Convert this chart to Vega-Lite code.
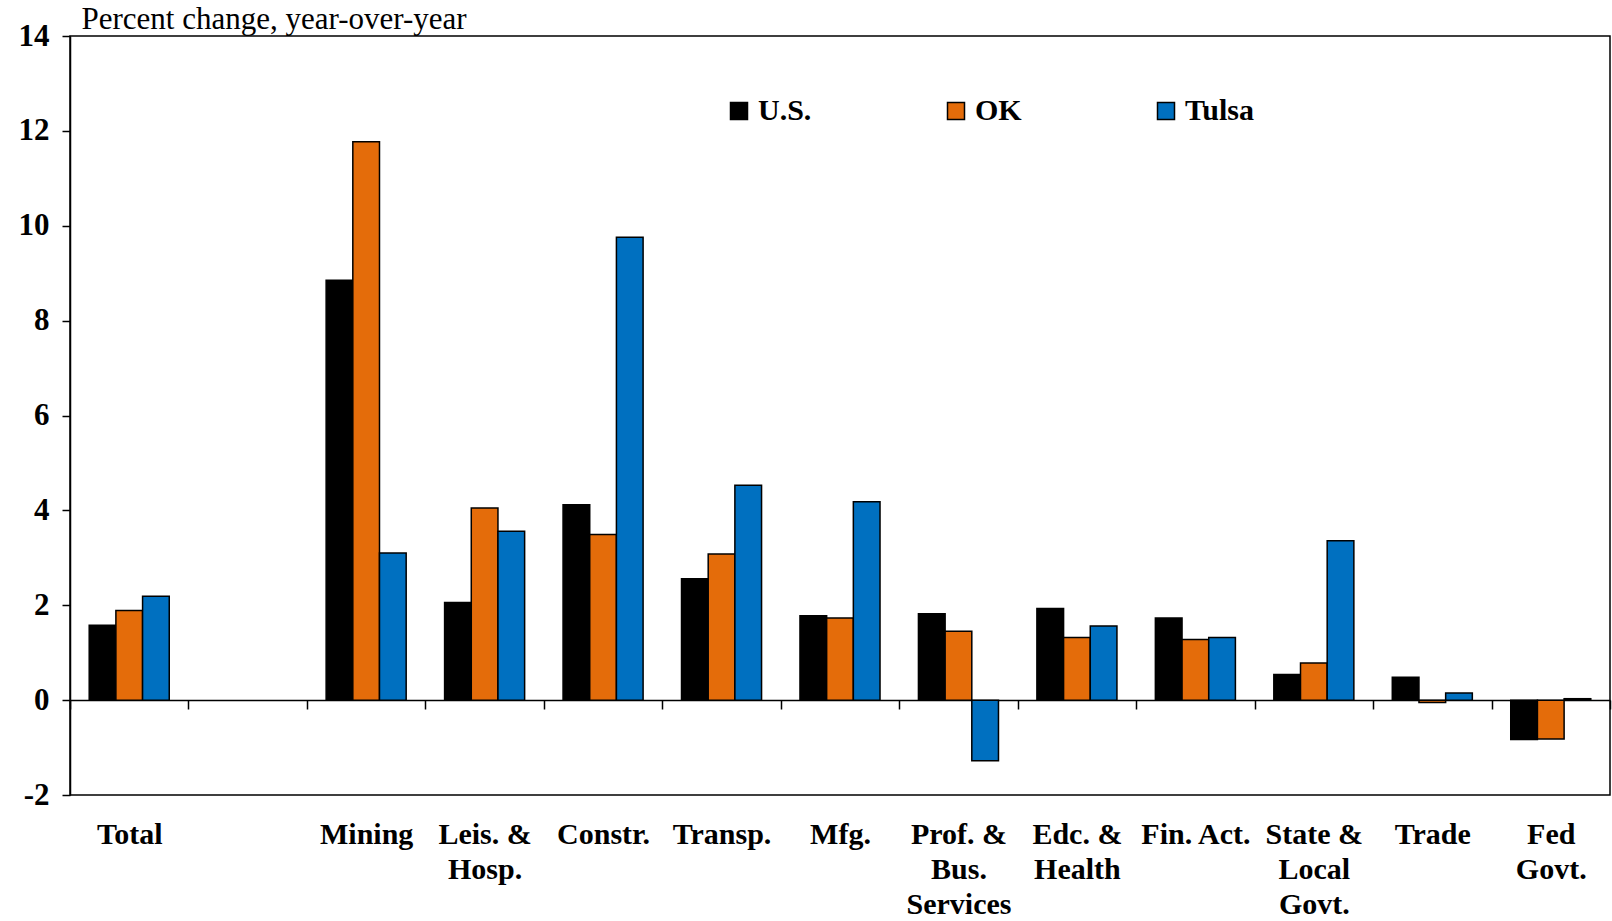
{
  "$schema": "https://vega.github.io/schema/vega-lite/v6.json",
  "width": 1540,
  "height": 759,
  "autosize": {"type": "none"},
  "padding": {"left": 70, "top": 36, "right": 2, "bottom": 126},
  "background": "white",
  "config": {"view": {"stroke": "#000", "strokeWidth": 1.5}, "font": "Liberation Serif"},
  "data": {"values": [
    {"cat": "Total", "series": "U.S.", "value": 1.58},
    {"cat": "Total", "series": "OK", "value": 1.89},
    {"cat": "Total", "series": "Tulsa", "value": 2.19},
    {"cat": "Mining", "series": "U.S.", "value": 8.85},
    {"cat": "Mining", "series": "OK", "value": 11.77},
    {"cat": "Mining", "series": "Tulsa", "value": 3.10},
    {"cat": "Leis. &|Hosp.", "series": "U.S.", "value": 2.06},
    {"cat": "Leis. &|Hosp.", "series": "OK", "value": 4.05},
    {"cat": "Leis. &|Hosp.", "series": "Tulsa", "value": 3.56},
    {"cat": "Constr.", "series": "U.S.", "value": 4.12},
    {"cat": "Constr.", "series": "OK", "value": 3.49},
    {"cat": "Constr.", "series": "Tulsa", "value": 9.76},
    {"cat": "Transp.", "series": "U.S.", "value": 2.56},
    {"cat": "Transp.", "series": "OK", "value": 3.08},
    {"cat": "Transp.", "series": "Tulsa", "value": 4.53},
    {"cat": "Mfg.", "series": "U.S.", "value": 1.78},
    {"cat": "Mfg.", "series": "OK", "value": 1.73},
    {"cat": "Mfg.", "series": "Tulsa", "value": 4.18},
    {"cat": "Prof. &|Bus.|Services", "series": "U.S.", "value": 1.82},
    {"cat": "Prof. &|Bus.|Services", "series": "OK", "value": 1.45},
    {"cat": "Prof. &|Bus.|Services", "series": "Tulsa", "value": -1.28},
    {"cat": "Edc. &|Health", "series": "U.S.", "value": 1.93},
    {"cat": "Edc. &|Health", "series": "OK", "value": 1.32},
    {"cat": "Edc. &|Health", "series": "Tulsa", "value": 1.56},
    {"cat": "Fin. Act.", "series": "U.S.", "value": 1.73},
    {"cat": "Fin. Act.", "series": "OK", "value": 1.28},
    {"cat": "Fin. Act.", "series": "Tulsa", "value": 1.32},
    {"cat": "State &|Local|Govt.", "series": "U.S.", "value": 0.54},
    {"cat": "State &|Local|Govt.", "series": "OK", "value": 0.78},
    {"cat": "State &|Local|Govt.", "series": "Tulsa", "value": 3.36},
    {"cat": "Trade", "series": "U.S.", "value": 0.48},
    {"cat": "Trade", "series": "OK", "value": -0.05},
    {"cat": "Trade", "series": "Tulsa", "value": 0.15},
    {"cat": "Fed|Govt.", "series": "U.S.", "value": -0.83},
    {"cat": "Fed|Govt.", "series": "OK", "value": -0.82},
    {"cat": "Fed|Govt.", "series": "Tulsa", "value": 0.03}
  ]},
  "mark": {"type": "bar", "stroke": "#000", "strokeWidth": 1.5},
  "encoding": {
    "x": {
      "field": "cat", "type": "nominal",
      "scale": {"domain": ["Total", "_", "Mining", "Leis. &|Hosp.", "Constr.", "Transp.", "Mfg.", "Prof. &|Bus.|Services", "Edc. &|Health", "Fin. Act.", "State &|Local|Govt.", "Trade", "Fed|Govt."], "paddingInner": 0, "paddingOuter": 0},
      "axis": {
        "title": null, "orient": "bottom", "offset": -95,
        "domainColor": "#000", "domainWidth": 1.5,
        "tickBand": "extent", "tickSize": 9, "tickColor": "#000", "tickWidth": 1.5,
        "labelExpr": "isString(datum.value) && datum.value != '_' ? split(datum.value, '|') : ''",
        "labelAngle": 0, "labelAlign": "center", "labelBaseline": "top",
        "labelPadding": 110, "labelLineHeight": 35,
        "labelFont": "Liberation Serif", "labelFontWeight": "bold", "labelFontSize": 30, "labelColor": "#000",
        "labelOverlap": false, "labelLimit": 0
      }
    },
    "xOffset": {"field": "series", "type": "nominal", "scale": {"domain": ["U.S.", "OK", "Tulsa"], "paddingInner": 0, "paddingOuter": 0.72}},
    "y": {
      "field": "value", "type": "quantitative",
      "scale": {"domain": [-2, 14], "nice": false, "zero": false},
      "axis": {
        "values": [-2, 0, 2, 4, 6, 8, 10, 12, 14], "grid": false,
        "labelExpr": "datum.value < 0 ? '-' + abs(datum.value) : '' + datum.value",
        "domainColor": "#000", "domainWidth": 1.5,
        "tickColor": "#000", "tickSize": 8, "tickWidth": 1.5,
        "labelFont": "Liberation Serif", "labelFontWeight": "bold", "labelFontSize": 31, "labelColor": "#000", "labelPadding": 13,
        "title": "Percent change, year-over-year", "titleAngle": 0, "titleX": 11, "titleY": -8,
        "titleAlign": "left", "titleBaseline": "alphabetic",
        "titleFont": "Liberation Serif", "titleFontWeight": "normal", "titleFontSize": 31, "titleColor": "#000"
      }
    },
    "color": {
      "field": "series", "type": "nominal",
      "scale": {"domain": ["U.S.", "OK", "Tulsa"], "range": ["#000000", "#E46C0A", "#0070C0"]},
      "legend": {
        "orient": "none", "legendX": 654, "legendY": 60, "direction": "horizontal", "title": null,
        "symbolType": "square", "symbolSize": 289, "symbolStrokeColor": "#000", "symbolStrokeWidth": 1.5, "symbolOpacity": 1,
        "labelFont": "Liberation Serif", "labelFontWeight": "bold", "labelFontSize": 30, "labelColor": "#000",
        "labelOffset": 4, "columnPadding": 129
      }
    }
  }
}
